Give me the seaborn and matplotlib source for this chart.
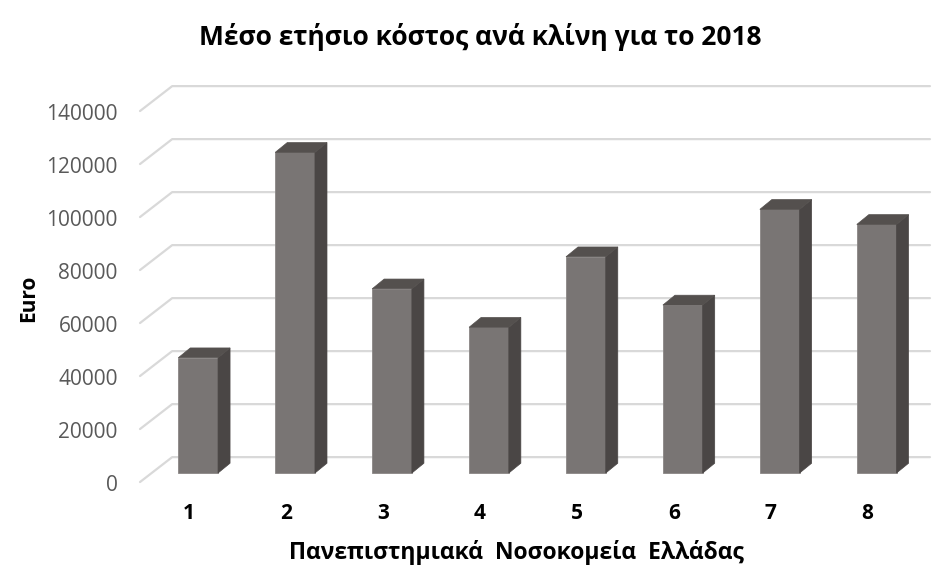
import numpy as np
import pandas as pd
import seaborn as sns
import matplotlib.pyplot as plt
from matplotlib.patches import Polygon
from matplotlib.transforms import ScaledTranslation

# data
hospitals = ["1", "2", "3", "4", "5", "6", "7", "8"]
cost = [43500, 121000, 69500, 55000, 81600, 63400, 99500, 93800]
yticks = [0, 20000, 40000, 60000, 80000, 100000, 120000, 140000]

df = pd.DataFrame({"hospital": hospitals, "cost": cost})

sns.set_theme(style="white")
plt.rcParams["font.family"] = ["Open Sans", "DejaVu Sans"]

front = "#797574"
side = "#4a4645"
top = "#54504e"
grid = "#d9d9d9"

fig = plt.figure(figsize=(9.39, 5.72), dpi=100)
ax = fig.add_axes([0.1491, 0.1545, 0.8413, 0.7042])

sns.barplot(data=df, x="hospital", y="cost", color=front, saturation=1,
            width=0.41, ax=ax, zorder=3, edgecolor="#8a8685", linewidth=0.6)

ax.set_xlim(-0.6, 7.55)
ax.set_ylim(-4000, 148000)

# fake 3d depth for bars
dx, dy = 0.124, 3700
for p in ax.patches:
    x0 = p.get_x()
    x1 = x0 + p.get_width()
    h = p.get_height()
    ax.add_patch(Polygon([(x1, 0), (x1 + dx, dy), (x1 + dx, h + dy), (x1, h)],
                         closed=True, fc=side, ec=side, lw=0.5, zorder=3))
    ax.add_patch(Polygon([(x0, h), (x0 + dx, h + dy), (x1 + dx, h + dy), (x1, h)],
                         closed=True, fc=top, ec=top, lw=0.5, zorder=3))

# slanted gridlines (front edge -> back wall)
for v in yticks:
    ax.plot([-0.6, -0.268, 7.55], [v - 3400, v + 6000, v + 6000],
            color=grid, lw=1.6, zorder=1, clip_on=False)

ax.set_yticks(yticks)
ax.set_yticklabels([str(v) for v in yticks])
ax.tick_params(axis="y", length=0, pad=16, labelsize=15, labelcolor="#595959")
ax.tick_params(axis="x", length=0, pad=14, labelsize=15, labelcolor="black")
# labels sit on the front edge of the floor, a bit lower / left of the bars
for lab in ax.get_yticklabels():
    lab.set_transform(lab.get_transform() + ScaledTranslation(0, -0.10, fig.dpi_scale_trans))
for lab in ax.get_xticklabels():
    lab.set_fontweight("bold")
    lab.set_transform(lab.get_transform() + ScaledTranslation(-0.09, 0, fig.dpi_scale_trans))

sns.despine(ax=ax, left=True, bottom=True)
ax.grid(False)

ax.set_ylabel("Euro", fontsize=15, fontweight="bold", color="black")
ax.yaxis.set_label_coords(-0.128, 0.46)
ax.set_xlabel("Πανεπιστημιακά  Νοσοκομεία  Ελλάδας", fontsize=16.5,
              fontweight="bold", color="black", va="center")
ax.xaxis.set_label_coords(0.477, -0.17)

fig.text(0.511, 0.936, "Μέσο ετήσιο κόστος ανά κλίνη για το 2018",
         ha="center", va="center", fontsize=19, fontweight="bold", color="black")

fig.savefig("out.png", dpi=100, facecolor="white")
